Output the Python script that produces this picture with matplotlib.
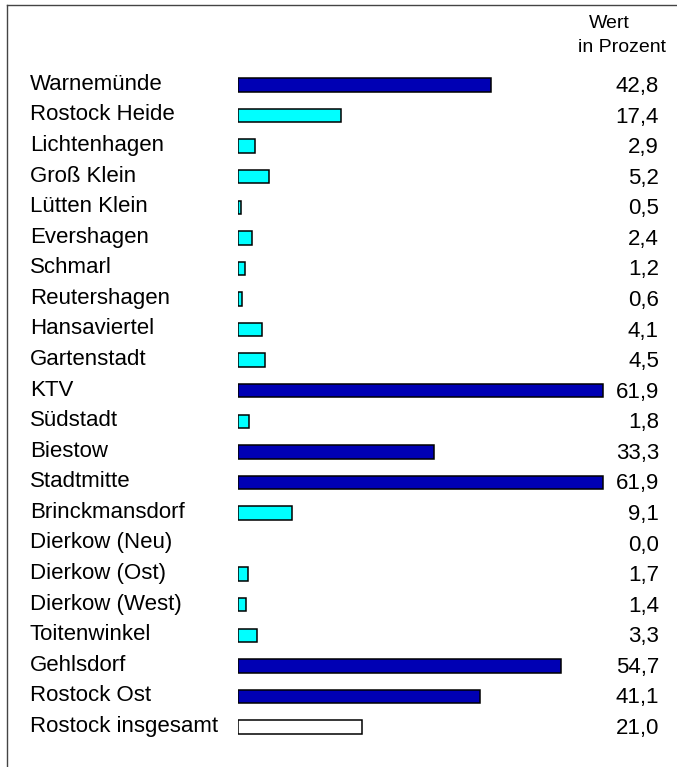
import matplotlib
matplotlib.use("Agg")
import matplotlib.pyplot as plt
from matplotlib.lines import Line2D

plt.rcParams['font.family'] = ['Liberation Sans', 'DejaVu Sans']

stadtteile = [
    "Warnemünde", "Rostock Heide", "Lichtenhagen", "Groß Klein", "Lütten Klein",
    "Evershagen", "Schmarl", "Reutershagen", "Hansaviertel", "Gartenstadt",
    "KTV", "Südstadt", "Biestow", "Stadtmitte", "Brinckmansdorf",
    "Dierkow (Neu)", "Dierkow (Ost)", "Dierkow (West)", "Toitenwinkel",
    "Gehlsdorf", "Rostock Ost", "Rostock insgesamt",
]
werte = [
    42.8, 17.4, 2.9, 5.2, 0.5,
    2.4, 1.2, 0.6, 4.1, 4.5,
    61.9, 1.8, 33.3, 61.9, 9.1,
    0.0, 1.7, 1.4, 3.3,
    54.7, 41.1, 21.0,
]
gesamt = werte[-1]

W, H = 677, 767
fig = plt.figure(figsize=(W / 100, H / 100), dpi=100)

# bar area: first row at y=85, last at y=727, 5.9 px per percent
n = len(stadtteile)
row_h = (727 - 85) / (n - 1)
top_px = 85 - row_h / 2
bot_px = top_px + n * row_h
left_px = 238
xmax = 70
ax = fig.add_axes([left_px / W, 1 - bot_px / H, xmax * 5.9 / W, (bot_px - top_px) / H])
ax.set_xlim(0, xmax)
ax.set_ylim(n - 0.5, -0.5)
ax.axis("off")

farben = []
for i, v in enumerate(werte):
    if i == n - 1:
        farben.append("white")
    elif v > gesamt:
        farben.append("#0000b4")
    else:
        farben.append("#00ffff")

ypos = list(range(n))
for y, v, c in zip(ypos, werte, farben):
    if v > 0:
        ax.barh(y, v, height=0.44, color=c, edgecolor="black", linewidth=1.1)

tr = matplotlib.transforms.blended_transform_factory(fig.transFigure, ax.transData)
for y, name, v in zip(ypos, stadtteile, werte):
    ax.text(30 / W, y - 0.02, name, transform=tr, ha="left", va="center", fontsize=16)
    ax.text(659 / W, y + 0.05, f"{v:.1f}".replace(".", ","), transform=tr,
            ha="right", va="center", fontsize=16)

fig.text(589 / W, 1 - 23 / H, "Wert", ha="left", va="center", fontsize=14)
fig.text(578 / W, 1 - 48 / H, "in Prozent", ha="left", va="center", fontsize=14)

# frame: left and top edge only
fig.add_artist(Line2D([7 / W, 7 / W], [0, 1 - 5 / H], transform=fig.transFigure,
                      color="#444444", linewidth=1))
fig.add_artist(Line2D([7 / W, 1], [1 - 5 / H, 1 - 5 / H], transform=fig.transFigure,
                      color="#444444", linewidth=1))

fig.savefig("out.png", dpi=100, facecolor="white")
